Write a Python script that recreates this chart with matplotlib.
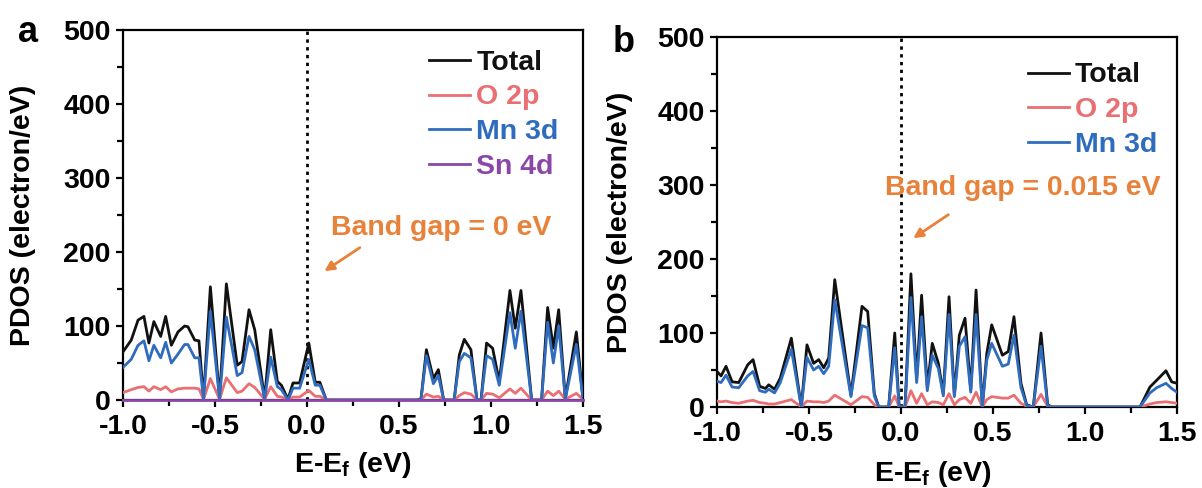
import matplotlib
matplotlib.use('Agg')
import matplotlib.pyplot as plt
from matplotlib.ticker import MultipleLocator, FormatStrFormatter

# ---- panel a: Sn-doped, band gap 0 eV ----
energy_a = [-1.000, -0.955, -0.918, -0.886, -0.859, -0.832, -0.795, -0.768, -0.737, -0.701,
            -0.665, -0.647, -0.610, -0.587, -0.562, -0.525, -0.475, -0.438, -0.379, -0.353,
            -0.315, -0.284, -0.230, -0.197, -0.161, -0.139, -0.103, -0.076, -0.040, 0.010,
            0.045, 0.070, 0.105, 0.600, 0.620, 0.649, 0.687, 0.714, 0.743, 0.800,
            0.828, 0.855, 0.891, 0.924, 0.946, 0.976, 1.009, 1.045, 1.103, 1.132,
            1.163, 1.221, 1.275, 1.308, 1.339, 1.368, 1.404, 1.464, 1.500]
total_a = [65, 81, 108, 113, 77, 106, 86, 113, 74, 92,
           100, 99, 81, 80, 2, 153, 2, 157, 47, 52,
           122, 95, 2, 95, 25, 20, 1, 23, 23, 77,
           24, 24, 0, 0, 2, 68, 29, 41, 0, 0,
           61, 82, 68, 0, 0, 77, 70, 25, 148, 97,
           148, 0, 0, 125, 70, 122, 2, 92, 2]
o2p_a = [10, 14, 17, 18, 12, 18, 14, 18, 11, 15,
         16, 16, 16, 15, 1, 29, 1, 30, 10, 12,
         22, 17, 1, 18, 5, 4, 0, 4, 4, 13,
         5, 5, 0, 0, 0, 8, 4, 5, 0, 0,
         6, 10, 8, 0, 0, 9, 8, 3, 15, 9,
         16, 0, 0, 12, 6, 12, 1, 9, 1]
mn3d_a = [44, 55, 74, 80, 53, 74, 57, 78, 50, 62,
          75, 75, 57, 57, 1, 120, 1, 112, 33, 37,
          86, 68, 1, 58, 18, 14, 0, 16, 16, 55,
          20, 20, 0, 0, 1, 60, 22, 33, 0, 0,
          52, 63, 57, 0, 0, 60, 55, 20, 118, 70,
          120, 0, 0, 105, 50, 100, 1, 75, 1]
sn4d_energy_a = [-1.0, 1.5]
sn4d_a = [0.5, 0.5]

# ---- panel b: band gap 0.015 eV ----
energy_b = [-1.000, -0.978, -0.951, -0.918, -0.882, -0.833, -0.804, -0.768, -0.737, -0.719,
            -0.687, -0.656, -0.596, -0.542, -0.511, -0.475, -0.447, -0.420, -0.393, -0.360,
            -0.272, -0.212, -0.181, -0.145, -0.121, -0.067, -0.034, -0.010, 0.022, 0.054,
            0.085, 0.112, 0.143, 0.170, 0.203, 0.230, 0.261, 0.290, 0.317, 0.348,
            0.379, 0.408, 0.442, 0.466, 0.493, 0.551, 0.583, 0.614, 0.652, 0.683,
            0.719, 0.761, 0.797, 0.819, 1.299, 1.353, 1.389, 1.440, 1.471, 1.500]
total_b = [48, 42, 55, 34, 33, 57, 64, 28, 25, 30,
           24, 39, 93, 0, 84, 59, 64, 53, 66, 172,
           16, 136, 129, 18, 0, 0, 100, 0, 0, 180,
           38, 151, 27, 86, 59, 18, 149, 16, 97, 120,
           23, 158, 0, 72, 111, 70, 75, 122, 32, 3,
           0, 100, 3, 0, 0, 27, 36, 49, 34, 32]
o2p_b = [8, 7, 8, 6, 5, 8, 9, 6, 5, 4,
         4, 6, 10, 0, 8, 7, 7, 6, 8, 16,
         3, 14, 13, 3, 0, 0, 15, 0, 0, 22,
         5, 18, 3, 7, 6, 3, 18, 3, 10, 13,
         5, 20, 0, 10, 14, 12, 12, 16, 5, 1,
         0, 17, 1, 0, 0, 4, 6, 7, 6, 5]
mn3d_b = [35, 33, 43, 27, 26, 42, 48, 22, 20, 24,
          19, 33, 78, 0, 67, 50, 55, 45, 55, 145,
          14, 110, 107, 15, 0, 0, 80, 0, 0, 148,
          33, 122, 22, 70, 52, 15, 125, 14, 82, 95,
          20, 125, 0, 63, 86, 55, 58, 97, 26, 2,
          0, 82, 2, 0, 0, 19, 26, 32, 25, 20]

C_TOTAL = '#111111'
C_O = '#ea6f72'
C_MN = '#2f6cbd'
C_SN = '#8b46a8'
C_NOTE = '#e8823a'

plt.rcParams['font.family'] = ['Liberation Sans', 'DejaVu Sans']
plt.rcParams['font.weight'] = 'bold'
plt.rcParams['font.size'] = 20
plt.rcParams['axes.unicode_minus'] = False
plt.rcParams['mathtext.fontset'] = 'custom'
plt.rcParams['mathtext.bf'] = 'Liberation Sans:bold'
plt.rcParams['mathtext.rm'] = 'Liberation Sans:bold'


def setup_axes(ax):
    ax.set_xlim(-1.0, 1.5)
    ax.set_ylim(0, 500)
    ax.xaxis.set_major_locator(MultipleLocator(0.5))
    ax.xaxis.set_minor_locator(MultipleLocator(0.25))
    ax.xaxis.set_major_formatter(FormatStrFormatter('%.1f'))
    ax.yaxis.set_major_locator(MultipleLocator(100))
    ax.yaxis.set_minor_locator(MultipleLocator(50))
    for s in ax.spines.values():
        s.set_linewidth(1.6)
    ax.tick_params(which='major', direction='out', length=5, width=1.6,
                   labelsize=20.5, pad=4)
    ax.tick_params(which='minor', direction='out', length=4, width=1.6)
    ax.tick_params(axis='x', which='major', pad=5)
    ax.axvline(0, color='black', lw=2, ls=(0, (1.2, 1.6)), zorder=1)
    ax.set_xlabel(r'E-E$_\mathbf{f}$ (eV)', fontsize=20.5, fontweight='bold')
    ax.set_ylabel('PDOS (electron/eV)', fontsize=20.5, fontweight='bold')


def add_legend(ax, anchor):
    ax.legend(loc='upper right', frameon=False, fontsize=20.5, labelcolor='linecolor',
              handlelength=1.45, handletextpad=0.2, labelspacing=0.3,
              borderaxespad=0.3, bbox_to_anchor=anchor)


fig = plt.figure(figsize=(12.02, 4.88), dpi=100)
ax_a = fig.add_axes([0.1023, 0.1803, 0.3827, 0.7582])
ax_b = fig.add_axes([0.5965, 0.1660, 0.3827, 0.7582])

lw = 2.0
# panel a
setup_axes(ax_a)
ax_a.plot(energy_a, total_a, color=C_TOTAL, lw=lw, label='Total', zorder=3)
ax_a.plot(energy_a, o2p_a, color=C_O, lw=lw, label='O 2p', zorder=3)
ax_a.plot(energy_a, mn3d_a, color=C_MN, lw=lw, label='Mn 3d', zorder=3)
ax_a.plot(sn4d_energy_a, sn4d_a, color=C_SN, lw=lw, label='Sn 4d', zorder=4,
          clip_on=False)
add_legend(ax_a, (0.99, 1.0))
ax_a.text(0.728, 232, 'Band gap = 0 eV', color=C_NOTE, fontsize=20.5,
          fontweight='bold', ha='center', va='center')
ax_a.annotate('', xy=(0.082, 172), xytext=(0.30, 208),
              arrowprops=dict(arrowstyle='-|>', color=C_NOTE, lw=2, mutation_scale=14))
ax_a.yaxis.set_label_coords(-0.19, 0.5)
ax_a.xaxis.set_label_coords(0.5, -0.135)

# panel b
setup_axes(ax_b)
ax_b.plot(energy_b, total_b, color=C_TOTAL, lw=lw, label='Total', zorder=3)
ax_b.plot(energy_b, o2p_b, color=C_O, lw=lw, label='O 2p', zorder=3)
ax_b.plot(energy_b, mn3d_b, color=C_MN, lw=lw, label='Mn 3d', zorder=3)
add_legend(ax_b, (1.0, 0.985))
ax_b.text(0.66, 296, 'Band gap = 0.015 eV', color=C_NOTE, fontsize=20.5,
          fontweight='bold', ha='center', va='center')
ax_b.annotate('', xy=(0.054, 226), xytext=(0.27, 262),
              arrowprops=dict(arrowstyle='-|>', color=C_NOTE, lw=2, mutation_scale=14))
ax_b.yaxis.set_label_coords(-0.183, 0.5)
ax_b.xaxis.set_label_coords(0.47, -0.14)

fig.text(28 / 1202, 1 - 32 / 488, 'a', fontsize=26, fontweight='bold',
         ha='center', va='center')
fig.text(624 / 1202, 1 - 42 / 488, 'b', fontsize=26, fontweight='bold',
         ha='center', va='center')

fig.savefig('out.png', dpi=100)
